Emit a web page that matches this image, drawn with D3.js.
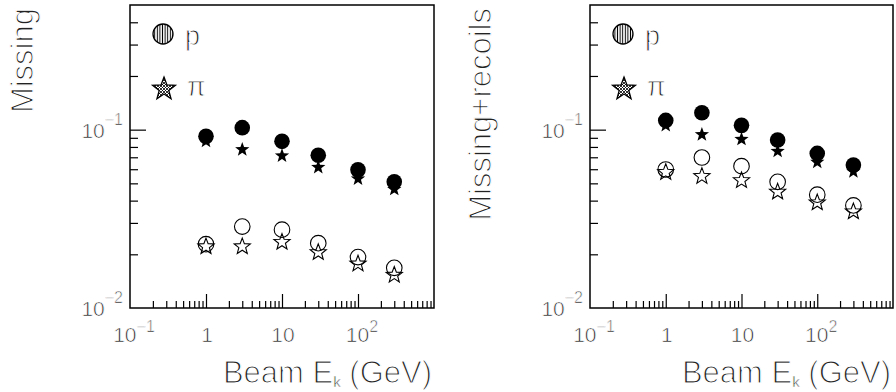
<!DOCTYPE html>
<html>
<head>
<meta charset="utf-8">
<script src="https://cdn.jsdelivr.net/npm/d3@7"></script>
<style>
  body { margin: 0; background: #fff; }
  svg { display: block; }
  text { font-family: "Liberation Sans", Arial, sans-serif; fill: #222; stroke: #fff; }
</style>
</head>
<body>
<svg id="chart" width="896" height="392"></svg>
<script>
// beam kinetic energies (GeV)
const energies = [1, 3, 10, 30, 100, 300];

// left panel: "Missing"
const missFilledP  = [0.0917, 0.1026, 0.0860, 0.0718, 0.0595, 0.0510];
const missFilledPi = [0.0863, 0.0773, 0.0713, 0.0615, 0.0530, 0.0463];
const missOpenP    = [0.0228, 0.0286, 0.0275, 0.0231, 0.0193, 0.0168];
const missOpenPi   = [0.0221, 0.0221, 0.0234, 0.0205, 0.0177, 0.0153];

// right panel: "Missing+recoils"
const recFilledP   = [0.1127, 0.1245, 0.1057, 0.0875, 0.0736, 0.0633];
const recFilledPi  = [0.1055, 0.0938, 0.0883, 0.0757, 0.0657, 0.0582];
const recOpenP     = [0.0598, 0.0698, 0.0624, 0.0510, 0.0432, 0.0376];
const recOpenPi    = [0.0577, 0.0548, 0.0519, 0.0448, 0.0390, 0.0347];

// axis ticks
const xLabelTicks = [{ v: 0.1, base: "10", exp: "\u22121" }, { v: 1, base: "1" }, { v: 10, base: "10" }, { v: 100, base: "10", exp: "2" }];
const yLabelTicks = [{ v: 0.01, base: "10", exp: "\u22122" }, { v: 0.1, base: "10", exp: "\u22121" }];
const xMajor = [1, 10, 100];
const yMajor = [0.1];

const legendItems = ["p", "\u03c0"];

const svg = d3.select("#chart");
const frameTop = 5, frameBottom = 308;

// minor ticks 2..9 in each decade
function minorTicks(lo, hi) {
    const out = [];
    for (let d = lo; d < hi; d *= 10) {
        for (let k = 2; k <= 9; k++) {
            const v = d * k;
            if (v < hi * 0.999) out.push(v);
        }
    }
    return out;
}

function starPath(R, ri) {
    const pts = [];
    for (let i = 0; i < 10; i++) {
        const a = -Math.PI / 2 + i * Math.PI / 5;
        const r = i % 2 ? ri : R;
        pts.push([r * Math.cos(a), r * Math.sin(a)]);
    }
    return "M" + pts.map(p => p[0].toFixed(2) + "," + p[1].toFixed(2)).join("L") + "Z";
}

// hatch patterns for legend markers
const defs = svg.append("defs");
defs.append("pattern")
    .attr("id", "vhatch").attr("patternUnits", "userSpaceOnUse")
    .attr("width", 2.6).attr("height", 10)
    .append("line").attr("x1", 1.3).attr("x2", 1.3).attr("y1", 0).attr("y2", 10)
    .attr("stroke", "#000").attr("stroke-width", 1);
const xh = defs.append("pattern")
    .attr("id", "xhatch").attr("patternUnits", "userSpaceOnUse")
    .attr("width", 3).attr("height", 3);
xh.append("path").attr("d", "M0,0L3,3M3,0L0,3").attr("stroke", "#000").attr("stroke-width", 0.8);

const panels = [
    { title: "Missing", left: 130, right: 434, titleX: 33,
      filledP: missFilledP, filledPi: missFilledPi, openP: missOpenP, openPi: missOpenPi },
    { title: "Missing+recoils", left: 590, right: 893, titleX: 491,
      filledP: recFilledP, filledPi: recFilledPi, openP: recOpenP, openPi: recOpenPi }
];

panels.forEach(p => {
    const x = d3.scaleLog().domain([0.1, 1000]).range([p.left, p.right]);
    const y = d3.scaleLog().domain([0.01, 0.5]).range([frameBottom, frameTop]);
    const g = svg.append("g");

    // minor + major ticks (inward)
    const xMinorAxis = d3.axisBottom(x).tickValues(minorTicks(0.1, 1000)).tickSize(-7).tickFormat("");
    const xMajorAxis = d3.axisBottom(x).tickValues(xMajor).tickSize(-14).tickFormat("");
    const yMinorAxis = d3.axisLeft(y).tickValues(minorTicks(0.01, 0.5)).tickSize(-8).tickFormat("");
    const yMajorAxis = d3.axisLeft(y).tickValues(yMajor).tickSize(-16).tickFormat("");

    [[xMinorAxis, `translate(0,${frameBottom})`], [xMajorAxis, `translate(0,${frameBottom})`],
     [yMinorAxis, `translate(${p.left},0)`], [yMajorAxis, `translate(${p.left},0)`]].forEach(([ax, tr]) => {
        g.append("g").attr("transform", tr).call(ax)
            .call(s => s.select(".domain").remove())
            .selectAll("line").attr("stroke", "#000").attr("stroke-width", 1.2);
    });

    // frame
    g.append("rect")
        .attr("x", p.left).attr("y", frameTop)
        .attr("width", p.right - p.left).attr("height", frameBottom - frameTop)
        .attr("fill", "none").attr("stroke", "#000").attr("stroke-width", 1.5);

    // x tick labels
    const xl = g.selectAll("text.xlab").data(xLabelTicks).enter().append("text")
        .attr("class", "xlab")
        .attr("x", d => x(d.v) + (d.exp ? 4 : 1))
        .attr("y", 342)
        .attr("text-anchor", "middle")
        .attr("font-size", 21).attr("stroke-width", 0.7);
    xl.append("tspan").text(d => d.base);
    xl.filter(d => d.exp).append("tspan").attr("dy", -10).attr("font-size", 16).text(d => d.exp);

    // y tick labels
    const yl = g.selectAll("text.ylab").data(yLabelTicks).enter().append("text")
        .attr("class", "ylab")
        .attr("x", p.left - 7)
        .attr("y", d => y(d.v) + 8)
        .attr("text-anchor", "end")
        .attr("font-size", 21).attr("stroke-width", 0.7);
    yl.append("tspan").text(d => d.base);
    yl.append("tspan").attr("dy", -13).attr("font-size", 16).text(d => d.exp);

    // axis titles
    g.append("text")
        .attr("transform", `translate(${p.titleX},8) rotate(-90)`)
        .attr("text-anchor", "end")
        .attr("font-size", 31).attr("stroke-width", 1.2)
        .text(p.title);

    const xt = g.append("text")
        .attr("x", p.right - 2).attr("y", 383)
        .attr("text-anchor", "end")
        .attr("font-size", 31).attr("stroke-width", 1.2);
    xt.append("tspan").text("Beam E");
    xt.append("tspan").attr("dy", 4).attr("font-size", 15).attr("stroke-width", 0.5).text("k");
    xt.append("tspan").attr("dy", -4).text(" (GeV)");

    // data markers
    const pts = arr => arr.map((v, i) => ({ e: energies[i], v }));
    const filledStar = starPath(7.5, 3.1);
    const openStar = starPath(8.5, 3.6);

    g.selectAll("path.fstar").data(pts(p.filledPi)).enter().append("path")
        .attr("class", "fstar").attr("d", filledStar)
        .attr("transform", d => `translate(${x(d.e)},${y(d.v)})`)
        .attr("fill", "#000");
    g.selectAll("circle.fcirc").data(pts(p.filledP)).enter().append("circle")
        .attr("class", "fcirc")
        .attr("cx", d => x(d.e)).attr("cy", d => y(d.v)).attr("r", 7.8)
        .attr("fill", "#000");
    g.selectAll("circle.ocirc").data(pts(p.openP)).enter().append("circle")
        .attr("class", "ocirc")
        .attr("cx", d => x(d.e)).attr("cy", d => y(d.v)).attr("r", 7.8)
        .attr("fill", "none").attr("stroke", "#000").attr("stroke-width", 1.1);
    g.selectAll("path.ostar").data(pts(p.openPi)).enter().append("path")
        .attr("class", "ostar").attr("d", openStar)
        .attr("transform", d => `translate(${x(d.e)},${y(d.v)})`)
        .attr("fill", "none").attr("stroke", "#000").attr("stroke-width", 1.1);

    // legend
    g.append("circle")
        .attr("cx", p.left + 33).attr("cy", 34).attr("r", 10)
        .attr("fill", "url(#vhatch)").attr("stroke", "#000").attr("stroke-width", 1.3);
    g.append("path")
        .attr("d", starPath(12, 5))
        .attr("transform", `translate(${p.left + 34},${89})`)
        .attr("fill", "url(#xhatch)").attr("stroke", "#000").attr("stroke-width", 1.3);
    g.selectAll("text.leg").data(legendItems).enter().append("text")
        .attr("class", "leg")
        .attr("x", (d, i) => p.left + (i ? 57 : 55))
        .attr("y", (d, i) => i ? 96 : 45)
        .attr("font-size", 27).attr("stroke-width", 1.0)
        .text(d => d);
});
</script>
</body>
</html>
